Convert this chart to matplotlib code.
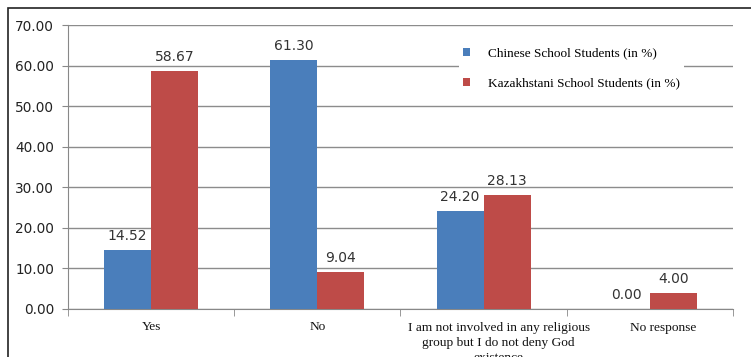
import matplotlib
matplotlib.use("Agg")
import matplotlib.pyplot as plt
import numpy as np
from matplotlib.patches import Rectangle

categories = ["Yes", "No", "I am not involved in any religious\ngroup but I do not deny God\nexistence", "No response"]
chinese = [14.52, 61.30, 24.20, 0.00]
kazakh = [58.67, 9.04, 28.13, 4.00]
series_names = ["Chinese School Students (in %)", "Kazakhstani School Students (in %)"]
yticks = [0, 10, 20, 30, 40, 50, 60, 70]

blue = "#4a7ebb"
red = "#be4b48"

fig = plt.figure(figsize=(7.51, 3.57), dpi=100)
W, H = 751, 357
ax = fig.add_axes([68 / W, 1 - 309 / H, (733 - 68) / W, (309 - 25) / H])

# outer frame
fig.patches.append(Rectangle((8 / W, -0.1), 1.2, 1 - 8 / H + 0.1, transform=fig.transFigure,
                             fill=False, edgecolor="#222222", linewidth=1.2))

x = np.arange(len(categories))
bw = 0.283
b1 = ax.bar(x - bw / 2, chinese, bw, color=blue, label=series_names[0], zorder=3)
b2 = ax.bar(x + bw / 2, kazakh, bw, color=red, label=series_names[1], zorder=3)

for bars, vals in ((b1, chinese), (b2, kazakh)):
    for r, v in zip(bars, vals):
        ax.annotate(f"{v:.2f}", (r.get_x() + r.get_width() / 2, v), xytext=(0, 5),
                    textcoords="offset points", ha="center", va="bottom",
                    fontsize=10, color="#333333", family="DejaVu Sans")

ax.set_xlim(-0.5, len(categories) - 0.5)
ax.set_ylim(0, 70)
ax.set_yticks(yticks)
ax.set_yticklabels([f"{t:.2f}" for t in yticks], fontsize=9.8, color="#222222")
ax.yaxis.grid(True, color="#8c8c8c", linewidth=1.0, zorder=0)
ax.set_axisbelow(True)

# label positions (the last two labels sit slightly right of their groups, as in the original)
label_shift = np.array([0, 0, 0.09, 0.08])
ax.set_xticks(x + label_shift)
ax.set_xticklabels(categories, family="Liberation Serif", fontsize=9.6, color="#111111",
                   linespacing=1.35)
ax.tick_params(axis="x", length=0, pad=9)
ax.set_xticks(np.arange(-0.5, len(categories) - 0.4, 1), minor=True)
ax.tick_params(axis="x", which="minor", length=5, color="#888888")
ax.tick_params(axis="y", length=4, color="#888888", pad=6)

for s in ("top", "right"):
    ax.spines[s].set_visible(False)
ax.spines["left"].set_color("#888888")
ax.spines["bottom"].set_color("#888888")

leg = ax.legend(loc="upper left", bbox_to_anchor=((452 - 68) / (733 - 68), (309 - 36) / 284),
                frameon=True, fancybox=False, edgecolor="none", framealpha=1,
                prop={"family": "Liberation Serif", "size": 9.5}, handlelength=0.55,
                handleheight=0.55, handletextpad=1.3, labelspacing=1.4, borderpad=0.35)

fig.savefig("out.png", dpi=100)
